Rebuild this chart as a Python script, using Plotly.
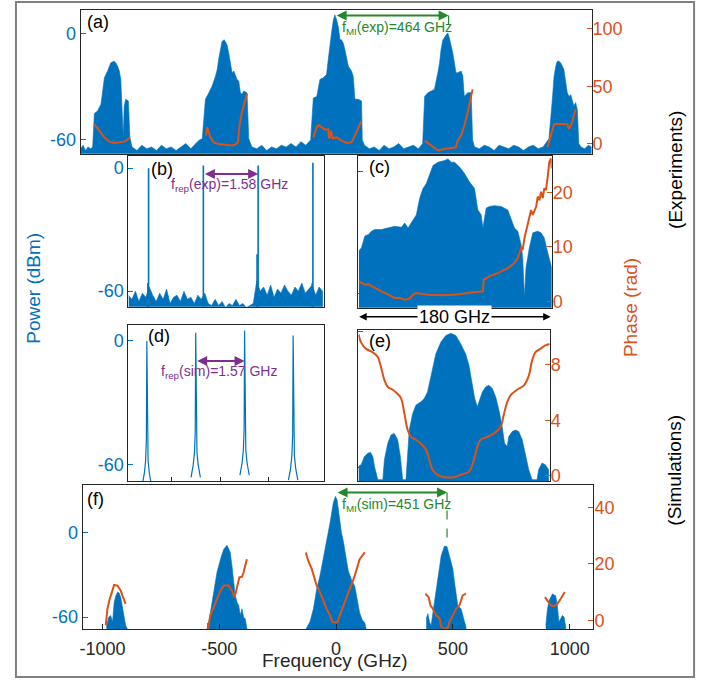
import plotly.graph_objects as go

W, H = 711, 684
BLUE = "#0072BD"
ORANGE = "#D95319"
GREEN = "#23882B"
PURPLE = "#7E2F8E"
DARK = "#262626"
FRAME = "#808080"
FONT = "Arial, 'Liberation Sans', sans-serif"

# ---------------- (a) experiment, full spectrum (GHz, dBm / rad) ----------------
A_FLOOR_F = [-1040, -1030, -1020, -1010, -1000,
             -830, -810, -790, -770, -750, -730, -710, -690, -670, -650, -630, -610, -590, -570, -555,
             -340, -320, -300, -280, -260, -240, -220, -200, -180, -160, -140, -120, -100,
             120, 140, 160, 180, 200, 220, 240, 260, 280, 300, 320, 340, 358,
             570, 590, 610, 630, 650, 670, 690, 710, 730, 750, 770, 790, 810, 830, 850,
             1005, 1020, 1035, 1048]
A_FLOOR_P = [-65, -63, -66, -64, -65,
             -64, -66, -63, -65, -64, -66, -63, -65, -64, -66, -64, -62, -65, -62, -60,
             -64, -65, -63, -66, -64, -65, -63, -64, -62, -64, -61, -63, -60,
             -63, -65, -64, -66, -63, -65, -64, -62, -65, -64, -63, -65, -62,
             -64, -65, -63, -64, -66, -63, -64, -65, -63, -64, -66, -64, -63, -65, -64,
             -64, -65, -63, -64]
A_LOBE_F = [
    [-991, -984, -971, -957, -950, -943, -930, -917, -903, -896, -889, -882, -876, -872, -866, -862, -856, -845, -839],
    [-543, -530, -516, -503, -489, -482, -475, -469, -462, -453, -442, -435, -428, -421, -414, -408, -401, -394, -387, -380, -374, -360, -353],
    [-89, -75, -62, -48, -35, -28, -21, -14, -7, -1, 6, 13, 20, 26, 33, 40, 54, 67, 74, 81, 94, 108, 111],
    [366, 379, 393, 406, 420, 427, 433, 440, 454, 461, 467, 481, 494, 501, 515, 522, 528, 542, 556, 562],
    [861, 874, 888, 895, 902, 908, 915, 922, 929, 935, 949, 956, 963, 969, 976, 983, 990, 996]]
A_LOBE_P = [
    [-64, -45, -43.6, -39.8, -33.3, -24.9, -21.1, -16.4, -15.5, -16.5, -18.3, -21.1, -25.8, -37, -58, -40.8, -37, -38, -58.5],
    [-59.4, -37, -33.3, -29.6, -24, -20.2, -13.6, -9, -4.3, -3.4, -6.2, -10.8, -15.5, -22.1, -21.1, -23, -25.8, -26.7, -33.3, -34.2, -32.4, -33.3, -59.4],
    [-36.3, -35.4, -25.8, -24.9, -23, -14.6, -5.2, 1.3, 7.9, 10.7, 7.9, 4.1, -3.4, -3.4, -5.2, -9, -18.3, -21.1, -24, -37, -37, -38, -60],
    [-35.4, -33.3, -32.4, -31.4, -22, -16.4, -9, -3.6, -0.6, 0.4, -2.4, -10.8, -22, -22, -21.1, -23.9, -35.4, -33.3, -33.3, -60],
    [-62, -59.4, -37, -24, -18.3, -15.5, -15.5, -16.4, -18.3, -20.2, -33.3, -35.4, -34.4, -37, -40.8, -38.9, -42.9, -62]]
A_PHASE_F = [
    [-984, -964, -943, -923, -903, -882, -862, -849, -838],
    [-527, -523, -510, -496, -475, -448, -421, -408, -397, -391, -381, -370, -360],
    [-89, -75, -68, -55, -41, -28, -24, -17, -10, 6, 26, 47, 67, 81, 94, 108],
    [366, 393, 420, 447, 474, 494, 501, 515, 528, 542, 556, 562],
    [868, 881, 895, 922, 949, 956, 969, 983]]
A_PHASE = [
    [17.2, 11.5, 5.7, 2.0, 0.9, 1.4, 2.0, 3.7, 5.7],
    [7.2, 14.4, 5.7, 1.4, 0.0, -0.6, -1.4, -0.6, 1.4, 15.8, 27.3, 35.9, 43.7],
    [5.7, 14.4, 16.4, 14.4, 12.4, 12.9, 4.6, 11.5, 5.0, 5.7, 2.9, 0.9, 1.4, 7.2, 12.9, 20.0],
    [2.9, -1.4, -5.7, -4.3, -3.7, -2.9, 2.9, 7.2, 15.8, 27.3, 41.7, 47.4],
    [-2.9, 7.2, 17.2, 17.5, 17.2, 12.9, 18.7, 30.2]]
A_FMI = 464

# ---------------- (b) experiment, zoom on comb lines (GHz, dBm) ----------------
B_NOISE_STEP = 0.1
B_NOISE = [-62, -64, -60, -65, -61, -63, -58,
           -62, -65, -61, -64, -59, -66, -63, -62, -65, -60, -64, -63, -66, -62, -64,
           -61, -66, -67, -64, -67, -65, -68, -66, -67, -64, -67, -66, -68, -67, -66,
           -55, -60, -58, -62, -57, -63, -59, -61, -57, -60, -62, -58, -60, -56, -61, -59, -57, -62, -58, -60]
B_LINE_F = [0.58, 0.56, 2.16, 3.74, 3.71, 5.32, 5.30]
B_LINE_P = [0.0, -56, 1.3, 1.3, -42, 2.6, -56]
B_FREP = (2.16, 3.74)

# ---------------- (c) experiment, 180 GHz window ----------------
C_FREQ = [0.3, 2.8, 5.9, 9, 12.1, 15.2, 21.4, 27.6, 33.8, 40, 43, 46.2, 50.8, 53.9, 57, 60.1, 63.2, 66.3, 69.4, 74.1,
          80.2, 83.4, 86.4, 89.5, 94.2, 98.8, 103.4, 108.1, 111.2, 114.3, 115.9, 119, 122, 126.7, 132.9, 139.1, 142.2,
          145.3, 148.4, 151.5, 153, 154.6, 156.1, 159.2, 162.4, 167, 170.1, 173.1, 176.3, 180]
C_POWER = [-39, -37.4, -31.7, -31, -29.3, -28.5, -28.5, -27.7, -26.9, -27.4, -25.3, -27.7, -23.7, -21.3, -13.2, -8.4,
           -6, -1.9, 2.9, 4.5, 5.3, 6.1, 4.5, 4.5, 2.1, -1.1, -5.1, -8.4, -18.9, -21.3, -27.7, -18, -17.2, -16.8, -17.2,
           -18.9, -22.9, -27.7, -29.3, -35.8, -42.2, -61.6, -47.1, -37.4, -30.1, -29.3, -30.1, -32.6, -39.8, -47.1]
C_PHASE_F = [0.3, 2.8, 5.9, 9, 15.2, 21.4, 27.6, 33.8, 38.4, 43, 47.7, 50.8, 53.9, 58.5, 64.7, 77.1, 89.5, 101.9, 108.1,
             115.9, 116.8, 122, 129.8, 139.1, 145.3, 148.4, 151.5, 153, 154.6, 157.7, 160.8, 162.4, 165.5, 167, 168.6,
             170.1, 171.7, 173.1, 174.7, 176.3, 177.8, 179.4, 180]
C_PHASE = [3.67, 3.36, 3.05, 3.17, 2.44, 1.83, 1.21, 0.61, 0.61, 0.29, 0.48, 1.21, 1.52, 1.40, 1.21, 1.10, 1.21, 1.52,
           1.65, 1.83, 3.97, 4.59, 5.19, 6.11, 7.03, 7.94, 9.78, 9.47, 11.6, 14.1, 16.8, 15.9, 17.4, 19.3, 18.6, 20.2,
           19.0, 20.8, 20.5, 22.9, 25.7, 26.3, 24.5]

# ---------------- (d) simulation, zoom on comb lines ----------------
D_LINE_F = [0.59, 2.16, 3.73, 5.29]
D_LINE_P = [0.0, 4.0, 5.0, 2.6]
D_SHAPE_DF = [-0.15, -0.08, -0.04, -0.015, 0.0, 0.015, 0.04, 0.08, 0.15]
D_SHAPE_DP = [-70, -64, -58, -48, 0, -48, -58, -64, -70]
D_FREP = (2.16, 3.73)
D_XTICKS = [1.38, 2.95, 4.51]

# ---------------- (e) simulation, 180 GHz window ----------------
E_FREQ = [0, 2.5, 5.6, 8.8, 11.3, 13.5, 15, 18.2, 22.9, 24.4, 27.6, 30.6, 33.7, 36.9, 39.4, 41.6, 44.7, 46.3, 47.8, 51,
          54.1, 58.8, 61.9, 65, 68.1, 72.8, 77.5, 82.2, 86.9, 91.6, 96.3, 100.9, 104, 107.2, 109.4, 111.9, 113.4, 116.6,
          119.7, 122.8, 126, 129.1, 132.2, 135.3, 137.5, 140, 141.5, 144.7, 147.8, 150.9, 154.1, 157.2, 160.3, 163.4,
          168.1, 169.6, 172.8, 175.9, 179]
E_POWER = [-59.6, -58.9, -55.3, -53.8, -53.5, -55.3, -59.6, -65.5, -65.5, -56.7, -49.4, -45.8, -45.1, -47.9, -55.3,
           -65.5, -65.5, -52.3, -43.6, -36.3, -32.6, -31.1, -29.7, -26.8, -20.2, -10, -4.8, -1.9, -0.9, -1.9, -5.6, -10,
           -15, -23.1, -29.7, -33.3, -31.1, -26.8, -24.6, -23.8, -25.3, -28.9, -34.8, -42.1, -49.4, -50.9, -46.5, -44.3,
           -43.6, -44.3, -47.9, -55.3, -61.1, -65.5, -65.5, -61.1, -58.2, -58.9, -61.1]
E_PHASE_F = [0, 2.5, 7.2, 13.5, 18.2, 21.3, 24.4, 27.6, 32.2, 36.9, 40, 43.2, 46.3, 49.4, 54.1, 58.8, 63.5, 66.6, 69.7,
             74.4, 80.6, 90, 96.3, 104, 108.7, 111.9, 115, 121.2, 127.5, 133.7, 136.8, 140, 143.1, 149.3, 155.6, 160.3,
             163.4, 166.5, 171.2, 175.9, 180]
E_PHASE = [10.2, 9.6, 9.15, 8.9, 8.56, 7.8, 6.9, 6.4, 6.2, 5.9, 5.6, 4.5, 3.3, 2.8, 2.6, 2.3, 1.9, 1.15, 0.43, 0.07,
           -0.1, -0.1, 0.07, 0.3, 1.15, 2.1, 2.6, 2.8, 3.05, 3.5, 4.4, 5.3, 5.8, 6.2, 6.5, 7.2, 8.3, 8.9, 9.15, 9.4, 9.5]

# ---------------- (f) simulation, full spectrum ----------------
F_LOBE_F = [
    [-983, -974, -965, -957, -950, -943, -936, -929, -922, -915, -908, -901, -893],
    [-552, -545, -538, -531, -517, -510, -495, -481, -467, -453, -446, -439, -432, -424, -417, -410, -403, -396, -389, -382],
    [-128, -112, -97, -83, -69, -55, -41, -26, -12, -3, 4, 10, 16, 23, 31, 38, 45, 52, 65, 80, 92, 101, 112, 123, 128],
    [386, 393, 400, 407, 421, 436, 450, 464, 475, 485, 500, 507, 514, 521, 535, 542, 549, 556],
    [898, 905, 912, 926, 940, 947, 954, 962, 969, 976, 983]]
F_LOBE_P = [
    [-67, -60, -58.8, -63.5, -49.4, -44.7, -42.3, -42.8, -45.9, -53, -60, -65.9, -68.7],
    [-64.6, -63.5, -56.5, -49.4, -37.6, -28.2, -18.8, -11.7, -8.9, -14.1, -23.5, -35.3, -44.7, -49.4, -51.7, -58.8, -54.1, -60, -61.2, -68.2],
    [-68, -63.5, -54, -40, -30.6, -18.8, -7, 7, 21.2, 25.9, 23.6, 15, 10, 0, -6, -15, -20, -27, -33, -38, -48, -57, -62, -64, -68],
    [-61, -57.5, -63.5, -65.9, -49.4, -30.6, -16.4, -9.4, -9.9, -16.4, -25.9, -35.3, -42.3, -51.7, -54.1, -58.8, -63.5, -67],
    [-65.9, -54.1, -48.2, -43.5, -44.7, -51.7, -63.5, -61.2, -58.8, -60, -67]]
F_PHASE_F = [
    [-986, -979, -969, -957, -950, -936, -922, -915, -908, -901],
    [-556, -548, -538, -524, -510, -495, -481, -460, -446, -436, -429, -420, -414, -403, -396, -389, -382],
    [-130, -119, -104, -97, -83, -69, -55, -41, -26, -16, -5, 6, 16, 38, 59, 80, 101, 123],
    [382, 396, 404, 414, 429, 443, 450, 464, 478, 485, 500, 514, 528, 535, 542, 556],
    [894, 905, 919, 933, 947, 962, 969, 979]]
F_PHASE = [
    [-1.75, 4.1, 7.6, 11.1, 12.5, 12.3, 10.5, 8.8, 7.4, 5.8],
    [-3.5, -2.9, 1.75, 4.7, 7.6, 10.5, 12.3, 12.3, 10.5, 8.2, 10.0, 12.9, 15.2, 15.4, 16.9, 19.3, 21.6],
    [24, 21, 18.1, 15.8, 12.3, 9.9, 7, 4.1, 1.75, -0.6, -0.8, -0.6, 1.75, 6.4, 11.1, 15.8, 21.6, 24],
    [9.4, 8.2, 5.3, 4.1, 1.75, 0.6, -2.3, -2.9, -2.7, -0.6, 1.75, 4.1, 5.3, 7.0, 8.8, 9.4],
    [8.2, 7.0, 5.3, 5.0, 5.8, 7.6, 8.8, 10.0]]
F_FMI_ARROW = 475
F_XTICKS = [-1000, -500, 0, 500, 1000]

# ---------------- layout geometry (pixels) ----------------
PA = (78, 591, 10, 155)
PB = (126, 322, 157, 309)
PC = (357, 551, 157, 310)
PD = (126, 322, 327, 485)
PE = (357, 549, 332, 485)
PF = (80, 593, 489, 634)
BASE = -100


def px_x(p):
    return p / W


def px_y(p):
    return 1 - p / H


def closed(xs, ys, base=BASE):
    return list(xs) + [xs[-1], xs[0]], list(ys) + [base, base]


def joined(xl, yl):
    xs, ys = [], []
    for a, b in zip(xl, yl):
        xs += list(a) + [None]
        ys += list(b) + [None]
    return xs, ys


def area(xs, ys, xa, ya):
    cx, cy = closed(xs, ys)
    return go.Scatter(x=cx, y=cy, mode="lines", fill="toself", fillcolor=BLUE,
                      line=dict(color=BLUE, width=0.6), xaxis=xa, yaxis=ya, hoverinfo="skip")


def curve(xs, ys, xa, ya, color=ORANGE, width=2, shape="linear"):
    return go.Scatter(x=xs, y=ys, mode="lines", line=dict(color=color, width=width, shape=shape),
                      xaxis=xa, yaxis=ya, hoverinfo="skip", connectgaps=False)


traces = []

# (a)
pts = sorted(list(zip(A_FLOOR_F, A_FLOOR_P)) +
             [p for f, v in zip(A_LOBE_F, A_LOBE_P) for p in zip(f, v)])
traces.append(area([p[0] for p in pts], [p[1] for p in pts], "x", "y"))
ax_, ay_ = joined(A_PHASE_F, A_PHASE)
traces.append(curve(ax_, ay_, "x", "y2"))

# (b)
bx = [round(i * B_NOISE_STEP, 2) for i in range(len(B_NOISE))]
traces.append(area(bx, B_NOISE, "x2", "y3"))
lx, ly = joined([[f, f] for f in B_LINE_F], [[BASE, p] for p in B_LINE_P])
traces.append(curve(lx, ly, "x2", "y3", color=BLUE, width=1.6))

# (c)
traces.append(area(C_FREQ, C_POWER, "x3", "y4"))
traces.append(curve(C_PHASE_F, C_PHASE, "x3", "y5"))

# (d)
dx, dy = joined([[f + d for d in D_SHAPE_DF] for f in D_LINE_F],
                [[p + d if d != 0 else p for d in D_SHAPE_DP] for p in D_LINE_P])
traces.append(curve(dx, dy, "x4", "y6", color=BLUE, width=1.2))

# (e)
traces.append(area(E_FREQ, E_POWER, "x5", "y7"))
traces.append(curve(E_PHASE_F, E_PHASE, "x5", "y8", shape="spline"))

# (f)
for f, v in zip(F_LOBE_F, F_LOBE_P):
    traces.append(area(f, v, "x6", "y9"))
fx_, fy_ = joined(F_PHASE_F, F_PHASE)
traces.append(curve(fx_, fy_, "x6", "y10"))

fig = go.Figure(traces)

BOX = dict(showline=True, mirror=True, linecolor=DARK, linewidth=1, showgrid=False, zeroline=False)


def xaxis(box, rng, anchor, **kw):
    x0, x1, y0, y1 = box
    d = dict(BOX, domain=[px_x(x0), px_x(x1)], range=rng, anchor=anchor, ticks="", showticklabels=False)
    d.update(kw)
    return d


def yaxis(box, rng, anchor, vals, color, labels=True):
    x0, x1, y0, y1 = box
    return dict(BOX, domain=[px_y(y1), px_y(y0)], range=rng, anchor=anchor,
                tickvals=vals, ticktext=[str(v) for v in vals], ticks="inside", ticklen=5,
                tickcolor=color, tickfont=dict(size=18, color=color, family=FONT), showticklabels=labels)


def yright(rng, anchor, overlay, vals):
    return dict(range=rng, anchor=anchor, overlaying=overlay, side="right", tickvals=vals,
                ticktext=[str(v) for v in vals], ticks="inside", ticklen=5, tickcolor=ORANGE,
                tickfont=dict(size=18, color=ORANGE, family=FONT), showgrid=False, zeroline=False,
                showline=False)


fig.update_layout(
    width=W, height=H, autosize=False, margin=dict(l=0, r=0, t=0, b=0),
    paper_bgcolor="white", plot_bgcolor="white", showlegend=False,
    font=dict(family=FONT, color=DARK),
    xaxis=xaxis(PA, [-1040, 1048], "y"),
    yaxis=yaxis(PA, [-67.9, 13.5], "x", [-60, 0], BLUE),
    yaxis2=yright([-8.6, 116.4], "x", "y", [0, 50, 100]),
    xaxis2=xaxis(PB, [0, 5.63], "y3"),
    yaxis3=yaxis(PB, [-67.6, 6], "x2", [-60, 0], BLUE),
    xaxis3=xaxis(PC, [0, 180], "y4"),
    yaxis4=yaxis(PC, [-66.8, 7.6], "x3", [-60, 0], BLUE, labels=False),
    yaxis5=yright([-1.2, 26.8], "x3", "y4", [0, 10, 20]),
    xaxis4=xaxis(PD, [0, 6.27], "y6", ticks="inside", tickvals=D_XTICKS, ticklen=4, tickcolor=DARK),
    yaxis6=yaxis(PD, [-68, 7.9], "x4", [-60, 0], BLUE),
    xaxis5=xaxis(PE, [0, 180], "y7"),
    yaxis7=yaxis(PE, [-66.3, 0.75], "x5", [-60, 0], BLUE, labels=False),
    yaxis8=yright([-0.41, 10.54], "x5", "y7", [0, 4, 8]),
    xaxis6=xaxis(PF, [-1085, 1102], "y9", ticks="inside", ticklen=5, tickcolor=DARK,
                 showticklabels=True, tickvals=F_XTICKS, ticktext=[str(v) for v in F_XTICKS],
                 tickfont=dict(size=18, color=DARK, family=FONT), ticklabelstandoff=3),
    yaxis9=yaxis(PF, [-68.7, 33.7], "x6", [-60, 0], BLUE),
    yaxis10=yright([-3.2, 47.7], "x6", "y9", [0, 20, 40]),
)

ann = []


def arrow2(xa, ya, x0, x1, y, color):
    ann.append(dict(xref=xa, yref=ya, axref=xa, ayref=ya, x=x1, y=y, ax=x0, ay=y, text="",
                    showarrow=True, arrowhead=2, arrowsize=1, arrowwidth=2, arrowcolor=color,
                    arrowside="end+start", standoff=0, startstandoff=0))


def label(text, x, y, size=18, color=DARK, xanchor="left", angle=0, **kw):
    d = dict(xref="paper", yref="paper", x=x, y=y, text=text, showarrow=False,
             font=dict(size=size, color=color, family=FONT), xanchor=xanchor, yanchor="middle",
             textangle=angle)
    d.update(kw)
    ann.append(d)


# (a) MI annotation
arrow2("x", "y", 0, A_FMI, 10.3, GREEN)
ann.append(dict(xref="x", yref="y", x=18, y=3.4, text="f<sub>MI</sub>(exp)=464 GHz", showarrow=False,
                xanchor="left", yanchor="middle", font=dict(size=14, color=GREEN, family=FONT)))
# (f) MI annotation
arrow2("x6", "y9", 0, F_FMI_ARROW, 28.7, GREEN)
ann.append(dict(xref="x6", yref="y9", x=15, y=20, text="f<sub>MI</sub>(sim)=451 GHz", showarrow=False,
                xanchor="left", yanchor="middle", font=dict(size=14, color=GREEN, family=FONT)))
# (b), (d) repetition-rate annotations
arrow2("x2", "y3", B_FREP[0], B_FREP[1], -2.8, PURPLE)
ann.append(dict(xref="x2", yref="y3", x=2.92, y=-8.4, text="f<sub>rep</sub>(exp)=1.58 GHz", showarrow=False,
                xanchor="center", yanchor="middle", font=dict(size=14, color=PURPLE, family=FONT)))
arrow2("x4", "y6", D_FREP[0], D_FREP[1], -9.7, PURPLE)
ann.append(dict(xref="x4", yref="y6", x=2.91, y=-14.8, text="f<sub>rep</sub>(sim)=1.57 GHz", showarrow=False,
                xanchor="center", yanchor="middle", font=dict(size=14, color=PURPLE, family=FONT)))

# 180 GHz span arrow
ann.append(dict(xref="paper", yref="paper", x=px_x(550), y=px_y(319), ax=-(550 - 357), ay=0, text="",
                showarrow=True, arrowhead=2, arrowsize=1, arrowwidth=1.5, arrowcolor="black",
                arrowside="end+start", standoff=0, startstandoff=0))
label("180 GHz", px_x(453), px_y(319), size=18, color="black", xanchor="center", bgcolor="white")

# panel letters
for t, (x, y) in zip(["(a)", "(b)", "(c)", "(d)", "(e)", "(f)"],
                     [(82, 22), (147, 170), (366, 168), (144, 338), (366, 344), (82, 503)]):
    label(t, px_x(x), px_y(y), size=18, color="black")

# side labels
label("Power (dBm)", px_x(31), px_y(290), size=19, color=BLUE, xanchor="center", angle=-90)
label("Phase (rad)", px_x(630), px_y(310), size=19, color=ORANGE, xanchor="center", angle=-90)
label("(Experiments)", px_x(676), px_y(171), size=19, color="black", xanchor="center", angle=-90)
label("(Simulations)", px_x(674), px_y(474), size=19, color="black", xanchor="center", angle=-90)
label("Frequency (GHz)", px_x(333), px_y(665), size=19, color=DARK, xanchor="center")

fig.update_layout(annotations=ann)

shapes = [
    dict(type="rect", xref="paper", yref="paper", x0=px_x(13), x1=px_x(694), y0=px_y(682), y1=px_y(2),
         line=dict(color=FRAME, width=2), layer="below"),
    dict(type="line", xref="x", yref="y", x0=A_FMI, x1=A_FMI, y0=10.3, y1=0.4,
         line=dict(color=GREEN, width=1.2, dash="dash")),
    dict(type="line", xref="x6", yref="y9", x0=F_FMI_ARROW, x1=F_FMI_ARROW, y0=28.7, y1=-9.4,
         line=dict(color=GREEN, width=1.2, dash="dash")),
]
fig.update_layout(shapes=shapes)

fig.write_html("out.html", include_plotlyjs=True, config={"displayModeBar": False},
               post_script="document.body.style.margin='0px';document.body.style.overflow='hidden';")
